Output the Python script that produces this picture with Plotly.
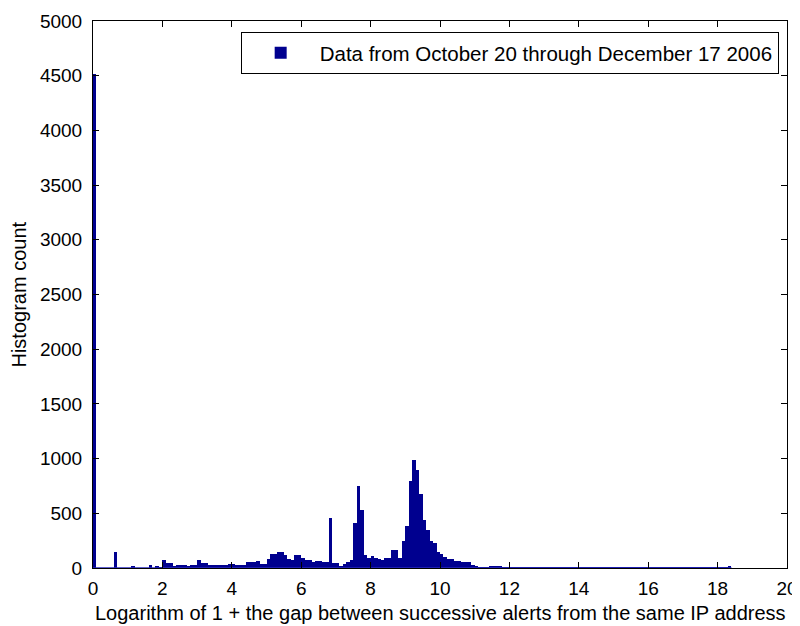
import numpy as np
import plotly.graph_objects as go

# histogram of log(1 + gap), bins of width 0.1 starting at 0
bin_width = 0.1
counts = [
    4520, 0, 0, 0, 0, 0, 150, 0, 0, 0,          # 0.0 - 1.0
    0, 18, 0, 0, 0, 0, 30, 0, 20, 8,            # 1.0 - 2.0
    76, 46, 46, 20, 30, 30, 30, 20, 30, 30,     # 2.0 - 3.0
    76, 46, 46, 30, 30, 30, 30, 30, 30, 35,     # 3.0 - 4.0
    35, 30, 30, 30, 52, 52, 52, 64, 40, 40,     # 4.0 - 5.0
    85, 131, 131, 146, 146, 122, 85, 76, 122, 122,  # 5.0 - 6.0
    94, 76, 76, 55, 64, 64, 55, 55, 457, 46,    # 6.0 - 7.0
    46, 21, 40, 55, 76, 411, 750, 533, 122, 94,  # 7.0 - 8.0
    107, 94, 85, 76, 94, 94, 168, 168, 94, 247,  # 8.0 - 9.0
    384, 792, 984, 893, 673, 436, 344, 247, 228, 146,  # 9.0 - 10.0
    125, 100, 82, 82, 61, 61, 55, 55, 55, 30,   # 10.0 - 11.0
    15, 6, 6, 6, 15, 15, 15, 15, 5, 5,          # 11.0 - 12.0
    3, 2, 2, 2, 2, 2, 2, 2, 2, 2,               # 12.0 - 13.0
    2, 2, 2, 2, 2, 2, 2, 2, 2, 2,               # 13.0 - 14.0
    2, 2, 2, 2, 2, 2, 2, 2, 2, 2,               # 14.0 - 15.0
    2, 2, 2, 2, 2, 2, 2, 2, 2, 2,               # 15.0 - 16.0
    2, 2, 2, 2, 2, 2, 2, 2, 2, 2,               # 16.0 - 17.0
    2, 2, 2, 2, 2, 2, 2, 2, 2, 2,               # 17.0 - 18.0
    2, 2, 2, 12,                                # 18.0 - 18.4
]
legend_label = 'Data from October 20 through December 17 2006'
x_title = 'Logarithm of 1 + the gap between successive alerts from the same IP address'
y_title = 'Histogram count'
x_ticks = list(range(0, 21, 2))
y_ticks = list(range(0, 5001, 500))

edges = np.arange(len(counts) + 1) * bin_width
centers = edges[:-1] + bin_width / 2

bar_color = 'rgb(0,0,143)'
tick_font = dict(family='Liberation Sans, Arial', size=19, color='black')
label_font = dict(family='Liberation Sans, Arial', size=20, color='black')

fig = go.Figure()
fig.add_trace(go.Bar(
    x=centers, y=counts, width=bin_width,
    marker=dict(color=bar_color, line=dict(width=0)),
    name=legend_label,
))
# zero-height bins still show their edge along the baseline
fig.add_trace(go.Scatter(
    x=[edges[0], edges[-1]], y=[0, 0], mode='lines',
    line=dict(color='rgb(40,40,190)', width=1.5),
    showlegend=False, hoverinfo='skip',
))

axis_style = dict(
    showline=True, linecolor='black', linewidth=1, mirror='ticks',
    ticks='inside', ticklen=6, tickcolor='black',
    showgrid=False, zeroline=False, tickfont=tick_font,
)
fig.update_xaxes(range=[0, 20], tickvals=x_ticks, ticklabelstandoff=3, **axis_style)
fig.update_yaxes(range=[0, 5000], tickvals=y_ticks, ticklabelstandoff=6, **axis_style)

fig.add_annotation(text=x_title, xref='paper', yref='paper', x=0.5, y=-0.083,
                   xanchor='center', yanchor='middle', showarrow=False, font=label_font)
fig.add_annotation(text=y_title, xref='paper', yref='paper', x=-0.108, y=0.5,
                   textangle=-90, xanchor='center', yanchor='middle', showarrow=False, font=label_font)

# the page body has an 8px margin, so the figure is 8px smaller than the window
fig.update_layout(
    width=792, height=618,
    margin=dict(l=85, r=13, t=13, b=58, autoexpand=False),
    plot_bgcolor='white', paper_bgcolor='white',
    bargap=0, font=label_font,
    legend=dict(x=0.988, y=0.98, xanchor='right', yanchor='top',
                bordercolor='black', borderwidth=1, bgcolor='white',
                font=dict(family='Liberation Sans, Arial', size=20.5, color='black'),
                itemwidth=68),
)

fig.write_html("out.html")
